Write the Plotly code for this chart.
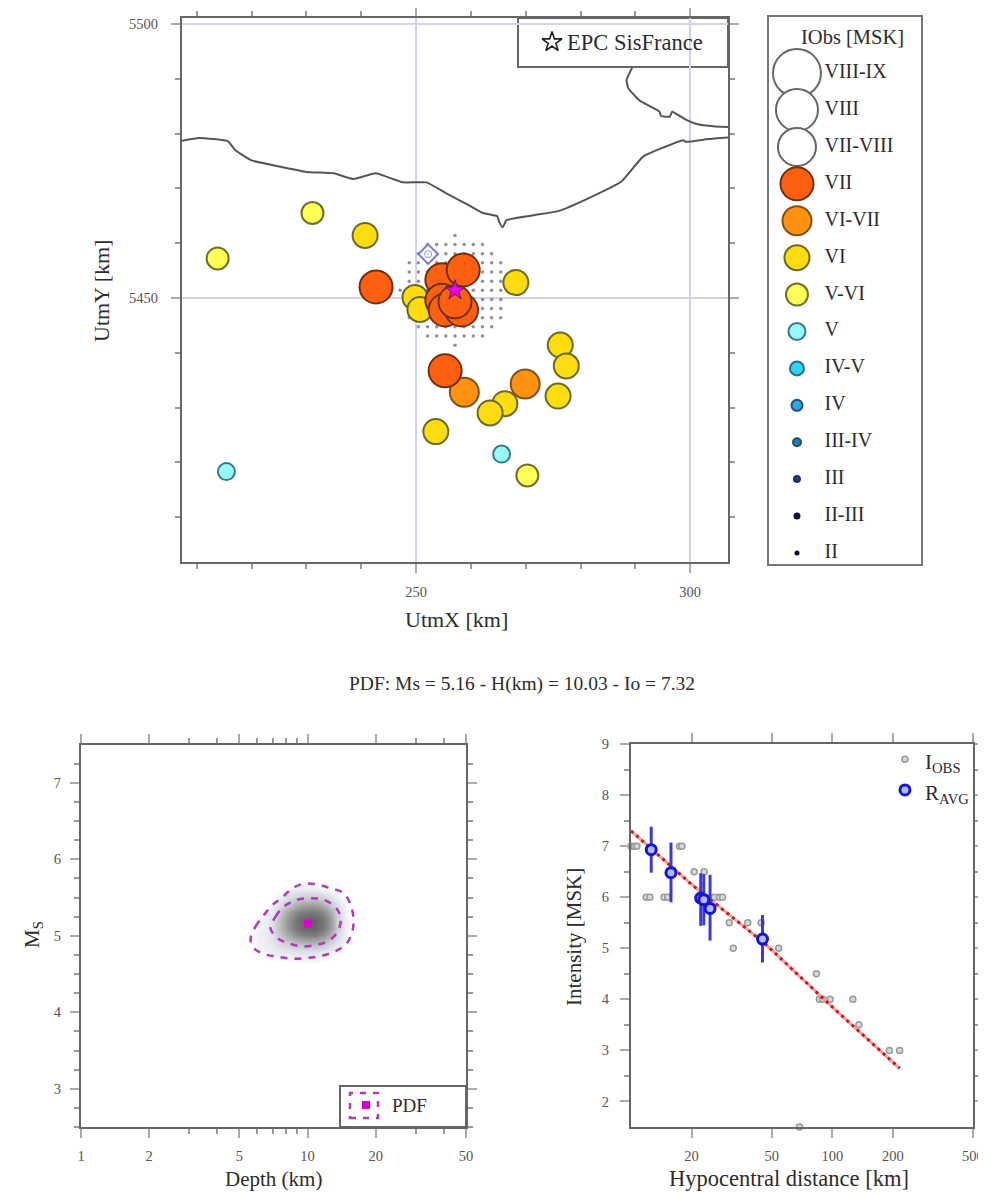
import plotly.graph_objects as go

# the page has an 8 px body margin; the figure fills what is left of the 986x1193 window
PAGE_MARGIN = 8
W, H = 986 - PAGE_MARGIN, 1193 - PAGE_MARGIN
SERIF = "Liberation Serif"
TXT = "#2c2c2c"

# ---------- map data ----------
coast_main_x = [207.3,210.4,215.7,217.0,220.0,225.0,230.0,235.0,238.6,242.6,247.6,251.9,255.5,259.5,262.2,264.8,265.2,265.8,266.5,271.5,276.1,282.1,287.4,291.4,294.7,298.7,299.3,303.3,307.0]
coast_main_y = [5478.7,5479.2,5478.6,5477.0,5475.1,5474.0,5473.0,5472.75,5471.7,5472.75,5471.1,5471.1,5469.1,5467.0,5465.5,5464.9,5463.8,5462.9,5464.2,5465.1,5465.9,5468.5,5471.2,5475.8,5477.3,5478.8,5478.5,5479.0,5479.3]
coast_north_x = [289.4,288.4,288.7,290.7,294.4,294.7,296.3,296.7,299.3,301.0,304.6,307.0]
coast_north_y = [5492.0,5489.8,5488.3,5486.1,5484.0,5483.2,5483.1,5484.0,5482.5,5481.8,5481.3,5481.2]

grid_center = (257.1, 5451.4)
grid_step_km = 1.67
grid_row_halfwidths = [0, 3, 4, 5, 5, 5, 6, 5, 5, 5, 4, 3, 0]

obs_groups = [
    ("V",      [215.4, 265.6], [5418.3, 5421.5]),
    ("V-VI",   [213.8, 231.1, 270.3], [5457.2, 5465.5, 5417.6]),
    ("VI",     [240.7, 249.8, 250.7, 268.2, 276.3, 277.4, 275.9, 266.2, 263.5, 253.6],
               [5461.4, 5450.1, 5447.9, 5452.8, 5441.4, 5437.6, 5432.1, 5430.7, 5429.0, 5425.6]),
    ("VI-VII", [258.8, 269.9], [5432.8, 5434.3]),
    ("VII",    [242.7, 255.3, 254.7, 258.6, 254.7, 255.3, 258.3, 257.1],
               [5452.0, 5436.7, 5453.3, 5455.1, 5449.6, 5447.8, 5447.8, 5449.3]),
]
epicentre_x, epicentre_y = [257.1], [5451.4]
sisfrance_x, sisfrance_y = [252.2], [5458.0]
sisfrance_key_x, sisfrance_key_y = [274.8], [5496.7]

# ---------- intensity classes ----------
class_labels = ["VIII-IX","VIII","VII-VIII","VII","VI-VII","VI","V-VI","V","IV-V","IV","III-IV","III","II-III","II"]
class_sizes  = [48,42,38,33,29,25,22,17,14,11,8,6,5,3]
class_fill   = ["#ffffff","#ffffff","#ffffff","#ff5f10","#ff9210","#ffdc10","#ffff55","#98f8f8","#30d4f0","#30a8e0","#2080b0","#1a4090","#101060","#000040"]
class_edge   = ["#666666","#666666","#666666","#6e3010","#805018","#6a6a20","#70702a","#337a88","#207090","#205080","#205070","#1a3060","#101040","#000030"]

# ---------- PDF data ----------
pdf_depth = [5.5,6,6.5,7,7.6,8.3,9,9.8,10.6,11.5,12.5,13.5,14.7,16]
pdf_ms = [4.7,4.8,4.9,5.0,5.1,5.2,5.3,5.4,5.5,5.6,5.7]
pdf_values = [
    [0,0,0,.01,.02,.02,.03,.03,.03,.02,.01,0,0,0],
    [0,.01,.03,.05,.07,.08,.1,.1,.1,.08,.05,.03,0,0],
    [.01,.03,.05,.08,.14,.22,.3,.34,.34,.3,.18,.08,.02,0],
    [0,.03,.05,.1,.25,.45,.6,.66,.68,.6,.4,.14,.03,0],
    [0,.02,.05,.12,.32,.58,.76,.84,.86,.76,.55,.2,.04,0],
    [0,.02,.04,.1,.32,.58,.78,.88,.9,.78,.56,.2,.04,0],
    [0,0,.02,.06,.25,.48,.66,.72,.74,.66,.45,.16,.03,0],
    [0,0,0,.03,.12,.28,.42,.48,.5,.42,.26,.1,.02,0],
    [0,0,0,0,.04,.12,.18,.22,.22,.18,.1,.03,0,0],
    [0,0,0,0,0,.03,.05,.05,.05,.03,0,0,0,0],
    [0,0,0,0,0,0,0,0,0,0,0,0,0,0],
]
outer_depth = [5.60,5.89,6.41,6.98,7.73,8.56,9.63,11.04,12.64,14.39,15.5,15.93,15.77,14.88,13.3,11.61,9.97,8.70,7.6,6.63,5.83,5.60]
outer_ms    = [4.95,5.12,5.27,5.40,5.50,5.62,5.68,5.67,5.62,5.56,5.40,5.23,5.06,4.90,4.80,4.74,4.71,4.70,4.72,4.75,4.83,4.95]
inner_depth = [6.86,7.22,7.85,9.0,10.3,11.8,13.3,14.0,13.6,12.3,10.85,9.48,8.27,7.35,6.86]
inner_ms    = [5.10,5.25,5.38,5.47,5.49,5.47,5.37,5.23,5.06,4.93,4.88,4.86,4.90,4.97,5.10]
best_depth, best_ms = [10.03], [5.16]

# ---------- attenuation data ----------
iobs_dist = [10.0,10.4,10.7,17.4,17.9,20.6,23.1,11.9,12.4,14.6,15.2,23.5,25.9,27.5,28.5,30.8,38.0,44.3,32.2,54.2,83.4,86.3,89.7,97.5,126.5,135.5,192,216,68.7]
iobs_int  = [7,7,7,7,7,6.5,6.5,6,6,6,6,6,6,6,6,5.5,5.5,5.5,5,5,4.5,4,4,4,4,3.5,3,3,1.5]
ravg_dist = [12.6,15.8,22.2,23.0,24.7,45.0]
ravg_int  = [6.93,6.48,5.98,5.95,5.78,5.18]
ravg_up   = [0.45,0.59,0.49,0.50,0.66,0.47]
ravg_down = [0.45,0.58,0.54,0.50,0.63,0.46]
fit_dist = [10,20,46,100,216]
fit_int  = [7.3,6.25,5.1,3.85,2.65]
key_dist = [229.6]
key_iobs, key_ravg = [8.7], [8.1]


def fx(px):
    return (px - PAGE_MARGIN) / W


def fy(py):
    return 1 - (py - PAGE_MARGIN) / H


fig = go.Figure()

# --- map ---
gx, gy = [], []
for i, hw in enumerate(grid_row_halfwidths):
    for k in range(-hw, hw + 1):
        gx.append(grid_center[0] + k * grid_step_km)
        gy.append(grid_center[1] + (6 - i) * grid_step_km)
fig.add_trace(go.Scatter(x=gx, y=gy, mode="markers", xaxis="x", yaxis="y",
                         marker=dict(size=3.5, color="#8f8fa8", line=dict(width=0))))
for cx, cy in [(coast_main_x, coast_main_y), (coast_north_x, coast_north_y)]:
    fig.add_trace(go.Scatter(x=cx, y=cy, mode="lines", xaxis="x", yaxis="y",
                             line=dict(color="#555555", width=2, shape="spline", smoothing=0.4)))
for name, ox, oy in obs_groups:
    i = class_labels.index(name)
    fig.add_trace(go.Scatter(x=ox, y=oy, mode="markers", xaxis="x", yaxis="y", name=name,
                             marker=dict(size=class_sizes[i], color=class_fill[i], opacity=1,
                                         line=dict(color=class_edge[i], width=2))))
fig.add_trace(go.Scatter(x=sisfrance_x, y=sisfrance_y, mode="markers", xaxis="x", yaxis="y",
                         marker=dict(symbol="diamond", size=15, color="rgba(255,255,255,0.9)",
                                     line=dict(color="#7a78e0", width=2))))
fig.add_trace(go.Scatter(x=sisfrance_x, y=sisfrance_y, mode="markers", xaxis="x", yaxis="y",
                         marker=dict(symbol="circle-dot", size=7, color="rgba(255,255,255,0)",
                                     line=dict(color="#8f8de8", width=1))))
fig.add_trace(go.Scatter(x=epicentre_x, y=epicentre_y, mode="markers", xaxis="x", yaxis="y",
                         marker=dict(symbol="star", size=15, color="#f000f0",
                                     line=dict(color="#5a2050", width=1))))
fig.add_trace(go.Scatter(x=sisfrance_key_x, y=sisfrance_key_y, mode="markers", xaxis="x", yaxis="y",
                         marker=dict(symbol="star", size=15, color="#ffffff",
                                     line=dict(color="#222222", width=1.6))))

# --- intensity key ---
rows = list(range(len(class_labels)))
fig.add_trace(go.Scatter(x=[0.184] * len(rows), y=rows, mode="markers", xaxis="x4", yaxis="y4",
                         cliponaxis=False,
                         marker=dict(size=class_sizes, color=class_fill, opacity=1, sizemode="diameter",
                                     line=dict(color=class_edge, width=2))))
fig.add_trace(go.Scatter(x=[0.365] * len(rows), y=rows, mode="text", xaxis="x4", yaxis="y4",
                         text=class_labels, textposition="middle right", cliponaxis=False,
                         textfont=dict(family=SERIF, size=20, color=TXT)))

# --- PDF ---
fig.add_trace(go.Heatmap(x=pdf_depth, y=pdf_ms, z=pdf_values, xaxis="x2", yaxis="y2",
                         showscale=False, zsmooth="best", zmin=0, zmax=1, hoverinfo="skip",
                         colorscale=[[0, "rgba(255,255,255,0)"], [0.03, "#f1f1f8"], [0.12, "#dcdce8"],
                                     [0.4, "#adadad"], [0.7, "#7c7c7c"], [1, "#555555"]]))
for cx, cy in [(outer_depth, outer_ms), (inner_depth, inner_ms)]:
    fig.add_trace(go.Scatter(x=cx, y=cy, mode="lines", xaxis="x2", yaxis="y2",
                             line=dict(color="#b23ab8", width=2.5, dash="7px,7px", shape="spline")))
fig.add_trace(go.Scatter(x=best_depth, y=best_ms, mode="markers", xaxis="x2", yaxis="y2",
                         marker=dict(symbol="square", size=8, color="#e000d8")))

# --- attenuation ---
fig.add_trace(go.Scatter(x=iobs_dist, y=iobs_int, mode="markers", xaxis="x3", yaxis="y3",
                         cliponaxis=False,
                         marker=dict(size=6, color="#d8d8d8", line=dict(color="#9a9a9a", width=1.5))))
fig.add_trace(go.Scatter(x=fit_dist, y=fit_int, mode="lines", xaxis="x3", yaxis="y3",
                         line=dict(color="#f0a0a0", width=3)))
fig.add_trace(go.Scatter(x=fit_dist, y=fit_int, mode="lines", xaxis="x3", yaxis="y3",
                         line=dict(color="#c81818", width=3, dash="3px,4px")))
fig.add_trace(go.Scatter(x=ravg_dist, y=ravg_int, mode="markers", xaxis="x3", yaxis="y3",
                         error_y=dict(type="data", symmetric=False, array=ravg_up, arrayminus=ravg_down,
                                      color="#3a3ad8", thickness=3, width=0),
                         marker=dict(size=10, color="#b8b8f0", line=dict(color="#1414d8", width=3))))
fig.add_trace(go.Scatter(x=key_dist, y=key_iobs, mode="markers", xaxis="x3", yaxis="y3",
                         marker=dict(size=6, color="#d8d8d8", line=dict(color="#9a9a9a", width=1.5))))
fig.add_trace(go.Scatter(x=key_dist, y=key_ravg, mode="markers", xaxis="x3", yaxis="y3",
                         marker=dict(size=10, color="#b8b8f0", line=dict(color="#1414d8", width=3))))


def axis(dom, anchor, tickvals, ticktext, minor, rng, **kw):
    d = dict(domain=dom, anchor=anchor, range=rng, tickmode="array", tickvals=tickvals, ticktext=ticktext,
             ticks="outside", ticklen=9, tickcolor="#aaaaaa", tickwidth=1.5, automargin=False,
             minor=dict(tickmode="array", tickvals=minor, ticks="outside", ticklen=5,
                        tickcolor="#999999", tickwidth=1.5, showgrid=False),
             showline=True, linecolor="#666666", linewidth=2, mirror="ticks", zeroline=False,
             showgrid=False, tickfont=dict(family=SERIF, size=14.5, color="#555555"), ticklabelstandoff=10)
    d.update(kw)
    return d


GRID = dict(showgrid=True, gridcolor="#d2d2ec", gridwidth=2)


def note(text, x, y, size, anchor="center", angle=0):
    return dict(text=text, xref="paper", yref="paper", x=fx(x), y=fy(y), xanchor=anchor, yanchor="middle",
                textangle=angle, showarrow=False, font=dict(family=SERIF, size=size, color=TXT))


layout = dict(
    width=W, height=H, margin=dict(l=0, r=0, t=0, b=0), showlegend=False,
    paper_bgcolor="white", plot_bgcolor="white",
    xaxis=axis([fx(182), fx(728)], "y", [250, 300], ["250", "300"],
               [210, 220, 230, 240, 260, 270, 280, 290], [207.3, 306.9], ticklabelstandoff=7, **GRID),
    yaxis=axis([fy(562), fy(18)], "x", [5450, 5500], ["5450", "5500"],
               [5410, 5420, 5430, 5440, 5460, 5470, 5480, 5490], [5401.8, 5501.1], **GRID),
    xaxis2=axis([fx(81), fx(466)], "y2", [1, 2, 5, 10, 20, 50],
                ["1", "2", "5", "10", "20", "50"], [3, 4, 6, 7, 8, 9, 30, 40],
                [0, 1.699], type="log", ticklabelstandoff=6),
    yaxis2=axis([fy(1127), fy(744.5)], "x2", [3, 4, 5, 6, 7], ["3", "4", "5", "6", "7"],
                [2.5, 2.75, 3.25, 3.5, 3.75, 4.25, 4.5, 4.75, 5.25, 5.5, 5.75, 6.25, 6.5, 6.75, 7.25],
                [2.5, 7.5], ticklabelstandoff=6),
    xaxis3=axis([fx(631), fx(973)], "y3", [20, 50, 100, 200, 500],
                ["20", "50", "100", "200", "500"], [], [1, 2.699], type="log", ticklabelstandoff=6),
    yaxis3=axis([fy(1127), fy(744)], "x3", [2, 3, 4, 5, 6, 7, 8, 9],
                ["2", "3", "4", "5", "6", "7", "8", "9"],
                [2.5, 3.5, 4.5, 5.5, 6.5, 7.5, 8.5], [1.5, 9], ticklabelstandoff=8),
    xaxis4=dict(domain=[fx(769), fx(921)], anchor="y4", range=[0, 1], showticklabels=False, ticks="",
                showline=True, mirror=True, linecolor="#777777", linewidth=2, showgrid=False, zeroline=False),
    yaxis4=dict(domain=[fy(564), fy(17)], anchor="x4", range=[13.3, -1.52], showticklabels=False, ticks="",
                showline=True, mirror=True, linecolor="#777777", linewidth=2, showgrid=False, zeroline=False),
    shapes=[
        dict(type="rect", xref="paper", yref="paper", x0=fx(518), x1=fx(728), y0=fy(67), y1=fy(18),
             fillcolor="white", line=dict(color="#666666", width=2), layer="below"),
        dict(type="rect", xref="paper", yref="paper", x0=fx(340), x1=fx(466), y0=fy(1127), y1=fy(1086),
             fillcolor="white", line=dict(color="#666666", width=2), layer="below"),
        dict(type="rect", xref="paper", yref="paper", x0=fx(350), x1=fx(378), y0=fy(1118), y1=fy(1093),
             line=dict(color="#b23ab8", width=2.5, dash="6px,7px")),
        dict(type="rect", xref="paper", yref="paper", x0=fx(362), x1=fx(370), y0=fy(1109), y1=fy(1101),
             fillcolor="#d800d0", line=dict(width=0)),
    ],
    annotations=[
        note("EPC SisFrance", 565, 43, 22.5, "left"),
        note("IObs [MSK]", 852, 37, 20.5),
        note("PDF: Ms = 5.16 - H(km) = 10.03 - Io = 7.32", 522, 684, 19.5),
        note("PDF", 390, 1105, 19, "left"),
        note("I<sub>OBS</sub>", 923, 763, 21, "left"),
        note("R<sub>AVG</sub>", 923, 794, 21, "left"),
        note("UtmX [km]", 456, 619, 22),
        note("UtmY [km]", 101, 291, 22, angle=-90),
        note("Depth (km)", 273, 1179, 21),
        note("M<sub>S</sub>", 33, 935, 21, angle=-90),
        note("Hypocentral distance [km]", 789, 1178, 22.5),
        note("Intensity [MSK]", 574, 937, 21, angle=-90),
    ],
)
fig.update_layout(**layout)
fig.write_html("out.html")
